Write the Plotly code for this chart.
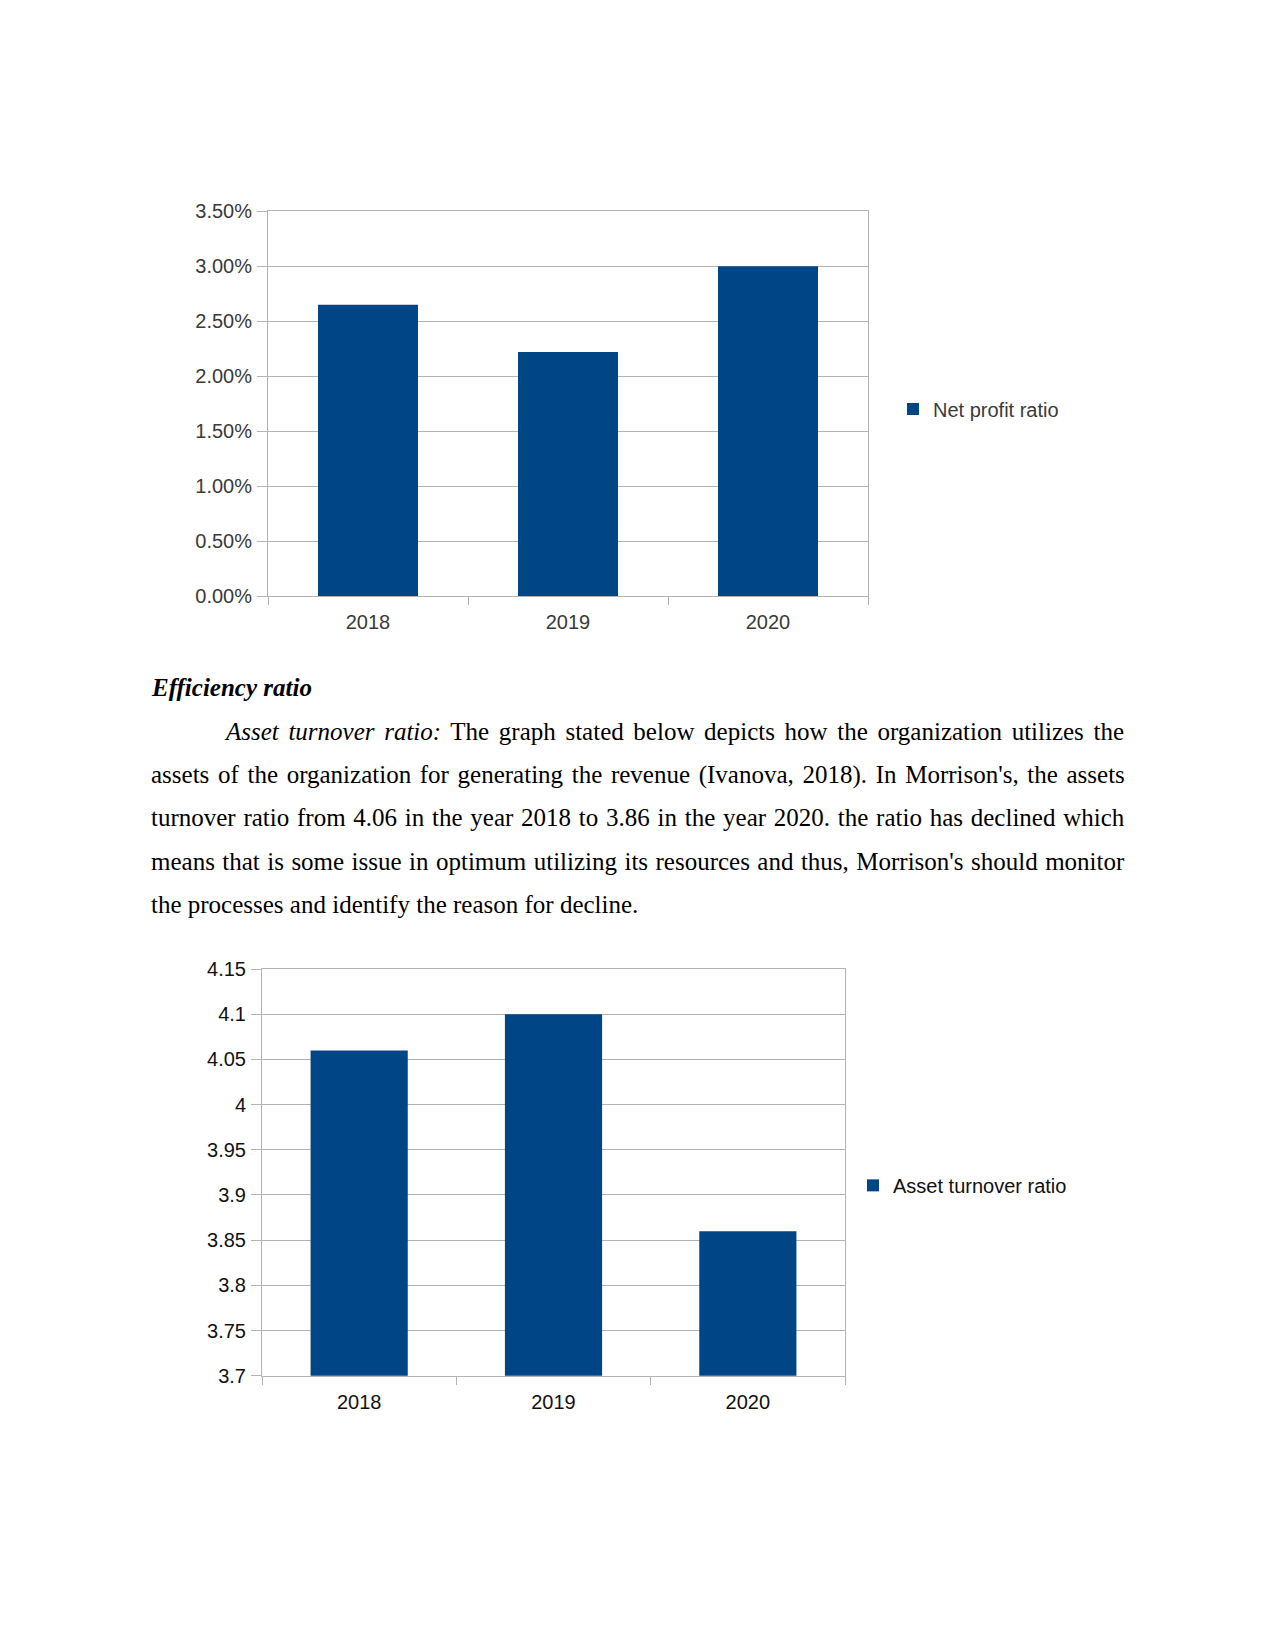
import plotly.graph_objects as go

# ---- data ----
years = ["2018", "2019", "2020"]
net_profit_ratio = [0.0265, 0.0222, 0.0300]
asset_turnover = [4.06, 4.10, 3.86]
turnover_ticks = [3.7, 3.75, 3.8, 3.85, 3.9, 3.95, 4.0, 4.05, 4.1, 4.15]
turnover_ticktext = ["3.7", "3.75", "3.8", "3.85", "3.9", "3.95", "4", "4.05", "4.1", "4.15"]

heading = "<b><i>Efficiency ratio</i></b>"
paragraph = [
    "<i>Asset turnover ratio:</i> The graph stated below depicts how the organization utilizes the",
    "assets of the organization for generating the revenue (Ivanova, 2018). In Morrison's, the assets",
    "turnover ratio from 4.06 in the year 2018 to 3.86 in the year 2020. the ratio has declined which",
    "means that is some issue in optimum utilizing its resources and thus, Morrison's should monitor",
    "the processes and identify the reason for decline.",
]

PAGE_W, PAGE_H = 1275, 1650
OFF = 8  # the page body adds an 8px margin around the plot div
W, H = PAGE_W - 2 * OFF, PAGE_H - 2 * OFF
BLUE = "#004586"
GRID = "#b3b3b3"
SANS = "Liberation Sans"
SERIF = "Liberation Serif"


def px(x):
    return (x - OFF) / W


def py(y):
    # small vertical calibration measured from earlier renders
    y = (y - 10.7) / 0.9874
    return 1 - (y - OFF) / H


fig = go.Figure()

fig.add_trace(go.Bar(
    x=years, y=net_profit_ratio, name="Net profit ratio",
    marker=dict(color=BLUE, line=dict(width=0)),
    xaxis="x", yaxis="y", legend="legend",
))
fig.add_trace(go.Bar(
    x=years, y=asset_turnover, name="Asset turnover ratio",
    marker=dict(color=BLUE, line=dict(width=0)),
    xaxis="x2", yaxis="y2", legend="legend2",
))


def xax(domain, anchor, color):
    return dict(
        domain=domain, anchor=anchor, type="category",
        showline=True, mirror=True, linecolor=GRID, linewidth=1,
        ticks="outside", tickson="boundaries", ticklen=8, tickcolor=GRID,
        showgrid=False, tickfont=dict(family=SANS, size=20, color=color),
        ticklabelstandoff=8, fixedrange=True,
    )


def yax(domain, anchor, color, **kw):
    d = dict(
        domain=domain, anchor=anchor,
        showline=True, mirror=True, linecolor=GRID, linewidth=1,
        ticks="outside", ticklen=10, tickcolor=GRID,
        showgrid=True, gridcolor=GRID, gridwidth=1, zeroline=False,
        tickfont=dict(family=SANS, size=20, color=color),
        ticklabelstandoff=1, fixedrange=True,
    )
    d.update(kw)
    return d


fig.update_layout(
    width=W, height=H,
    margin=dict(l=0, r=0, t=0, b=0),
    paper_bgcolor="white", plot_bgcolor="white",
    bargap=0.5,
    showlegend=True,
    xaxis=xax([px(268), px(868)], "y", "#3a3a3a"),
    yaxis=yax([py(596.5), py(211)], "x", "#3a3a3a",
              range=[0, 0.035], dtick=0.005, tick0=0, tickformat=".2%"),
    xaxis2=xax([px(262), px(845)], "y2", "#111111"),
    yaxis2=yax([py(1376.5), py(969.5)], "x2", "#111111",
               range=[3.7, 4.15], tickvals=turnover_ticks, ticktext=turnover_ticktext),
    legend=dict(x=px(893), y=py(409), xanchor="left", yanchor="middle",
                font=dict(family=SANS, size=20, color="#3a3a3a"),
                bgcolor="rgba(0,0,0,0)", borderwidth=0),
    legend2=dict(x=px(853), y=py(1186), xanchor="left", yanchor="middle",
                 font=dict(family=SANS, size=20, color="#111111"),
                 bgcolor="rgba(0,0,0,0)", borderwidth=0),
)

# document text around the charts (justified lines get extra word spacing)
fig.add_annotation(
    text=heading, xref="paper", yref="paper", x=px(149), y=py(688),
    xanchor="left", yanchor="middle", showarrow=False,
    font=dict(family=SERIF, size=25, color="black"),
)
line_y = [732, 775, 818, 861.5, 904.5]
word_gap = [3.4, 2.4, 1.5, 1.2, 0]
for i, (line, ly, gap) in enumerate(zip(paragraph, line_y, word_gap)):
    fig.add_annotation(
        text=f'<span style="word-spacing:{gap}px">{line}</span>',
        xref="paper", yref="paper",
        x=px(222 if i == 0 else 149), y=py(ly),
        xanchor="left", yanchor="middle", showarrow=False, align="left",
        font=dict(family=SERIF, size=25, color="black"),
    )

fig.write_html("out.html")
